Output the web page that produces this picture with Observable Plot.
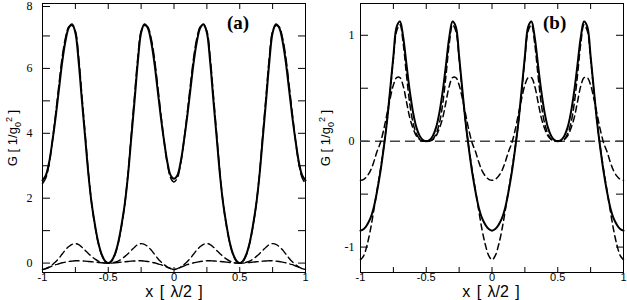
<!DOCTYPE html>
<html><head><meta charset="utf-8">
<script src="https://cdn.jsdelivr.net/npm/d3@7"></script>
<script src="https://cdn.jsdelivr.net/npm/@observablehq/plot@0.6"></script>
<style>
body{margin:0;background:#fff;}
#wrap{position:relative;width:627px;height:300px;overflow:hidden;background:#fff;}
.panel{position:absolute;top:0;overflow:visible;}
.ylab{position:absolute;font-family:"Liberation Sans",Arial,sans-serif;font-size:13px;white-space:nowrap;transform:translate(-50%,-50%) rotate(-90deg);line-height:1;}
.ylab sub,.ylab sup{font-size:9px;}
.xlab{position:absolute;font-family:"Liberation Sans",Arial,sans-serif;font-size:16px;white-space:pre;word-spacing:2px;transform:translate(-50%,-50%);line-height:1;}
.tag{position:absolute;font-family:"Liberation Serif","Times New Roman",serif;font-weight:bold;font-size:19px;line-height:1;}
</style></head><body><div id="wrap"></div>
<script>
// ---- shared x grid (x in units of lambda/2) ----
const xs = [-1, -0.975, -0.95, -0.925, -0.9, -0.875, -0.85, -0.825, -0.8, -0.775,
  -0.75, -0.725, -0.7, -0.675, -0.65, -0.625, -0.6, -0.575, -0.55, -0.525,
  -0.5, -0.475, -0.45, -0.425, -0.4, -0.375, -0.35, -0.325, -0.3, -0.275,
  -0.25, -0.225, -0.2, -0.175, -0.15, -0.125, -0.1, -0.075, -0.05, -0.025,
  0, 0.025, 0.05, 0.075, 0.1, 0.125, 0.15, 0.175, 0.2, 0.225,
  0.25, 0.275, 0.3, 0.325, 0.35, 0.375, 0.4, 0.425, 0.45, 0.475,
  0.5, 0.525, 0.55, 0.575, 0.6, 0.625, 0.65, 0.675, 0.7, 0.725,
  0.75, 0.775, 0.8, 0.825, 0.85, 0.875, 0.9, 0.925, 0.95, 0.975, 1];

// ---- panel (a) series ----
const aSolid = [
  2.55, 2.7, 3.1, 3.75, 4.5, 5.35, 6.2, 6.85, 7.25, 7.36, 7.1, 6.2, 5.0, 3.85, 2.7, 1.8, 1.15, 0.62, 0.27, 0.07, 0,
  0.07, 0.27, 0.62, 1.15, 1.8, 2.7, 3.85, 5.0, 6.2, 7.1, 7.36, 7.25, 6.85, 6.2, 5.35, 4.5, 3.75, 3.1, 2.7, 2.6,
  2.7, 3.1, 3.75, 4.5, 5.35, 6.2, 6.85, 7.25, 7.36, 7.1, 6.2, 5.0, 3.85, 2.7, 1.8, 1.15, 0.62, 0.27, 0.07, 0,
  0.07, 0.27, 0.62, 1.15, 1.8, 2.7, 3.85, 5.0, 6.2, 7.1, 7.36, 7.25, 6.85, 6.2, 5.35, 4.5, 3.75, 3.1, 2.7, 2.55];
const aDashBig = [
  2.45, 2.62, 3.05, 3.75, 4.6, 5.5, 6.35, 6.95, 7.28, 7.32, 7.15, 6.35, 5.15, 3.95, 2.75, 1.8, 1.12, 0.6, 0.25, 0.06, 0,
  0.06, 0.25, 0.6, 1.12, 1.8, 2.75, 3.95, 5.15, 6.35, 7.15, 7.32, 7.28, 6.95, 6.35, 5.5, 4.6, 3.75, 3.05, 2.62, 2.5,
  2.62, 3.05, 3.75, 4.6, 5.5, 6.35, 6.95, 7.28, 7.32, 7.15, 6.35, 5.15, 3.95, 2.75, 1.8, 1.12, 0.6, 0.25, 0.06, 0,
  0.06, 0.25, 0.6, 1.12, 1.8, 2.75, 3.95, 5.15, 6.35, 7.15, 7.32, 7.28, 6.95, 6.35, 5.5, 4.6, 3.75, 3.05, 2.62, 2.45];
const aDashPeak = [
  -0.2, -0.17, -0.12, -0.05, 0.04, 0.15, 0.28, 0.41, 0.51, 0.58, 0.6, 0.57, 0.49, 0.39, 0.29, 0.2, 0.12, 0.06, 0.025, 0.005, 0,
  0.005, 0.025, 0.06, 0.12, 0.2, 0.29, 0.39, 0.49, 0.57, 0.6, 0.58, 0.51, 0.41, 0.28, 0.15, 0.04, -0.05, -0.12, -0.17, -0.2,
  -0.17, -0.12, -0.05, 0.04, 0.15, 0.28, 0.41, 0.51, 0.58, 0.6, 0.57, 0.49, 0.39, 0.29, 0.2, 0.12, 0.06, 0.025, 0.005, 0,
  0.005, 0.025, 0.06, 0.12, 0.2, 0.29, 0.39, 0.49, 0.57, 0.6, 0.58, 0.51, 0.41, 0.28, 0.15, 0.04, -0.05, -0.12, -0.17, -0.2];
const aDashFlat = [
  -0.2, -0.17, -0.13, -0.09, -0.05, -0.02, 0.01, 0.03, 0.05, 0.06, 0.07, 0.07, 0.065, 0.06, 0.05, 0.04, 0.03, 0.02, 0.01, 0.0, 0,
  0.0, 0.01, 0.02, 0.03, 0.04, 0.05, 0.06, 0.065, 0.07, 0.07, 0.06, 0.05, 0.03, 0.01, -0.02, -0.05, -0.09, -0.13, -0.17, -0.2,
  -0.17, -0.13, -0.09, -0.05, -0.02, 0.01, 0.03, 0.05, 0.06, 0.07, 0.07, 0.065, 0.06, 0.05, 0.04, 0.03, 0.02, 0.01, 0.0, 0,
  0.0, 0.01, 0.02, 0.03, 0.04, 0.05, 0.06, 0.065, 0.07, 0.07, 0.06, 0.05, 0.03, 0.01, -0.02, -0.05, -0.09, -0.13, -0.17, -0.2];

// ---- panel (b) series ----
const bSolid = [
  -0.845, -0.83, -0.79, -0.73, -0.63, -0.48, -0.3, -0.08, 0.17, 0.48, 0.8, 1.08, 1.13, 0.98, 0.72, 0.47, 0.27, 0.13, 0.05, 0.01, 0,
  0.01, 0.05, 0.13, 0.27, 0.47, 0.72, 0.98, 1.13, 1.08, 0.8, 0.48, 0.17, -0.08, -0.3, -0.48, -0.63, -0.73, -0.79, -0.83, -0.845,
  -0.83, -0.79, -0.73, -0.63, -0.48, -0.3, -0.08, 0.17, 0.48, 0.8, 1.08, 1.13, 0.98, 0.72, 0.47, 0.27, 0.13, 0.05, 0.01, 0,
  0.01, 0.05, 0.13, 0.27, 0.47, 0.72, 0.98, 1.13, 1.08, 0.8, 0.48, 0.17, -0.08, -0.3, -0.48, -0.63, -0.73, -0.79, -0.83, -0.845];
const bDashBig = [
  -1.12, -1.08, -0.98, -0.84, -0.66, -0.47, -0.28, -0.07, 0.17, 0.46, 0.78, 1.04, 1.1, 0.92, 0.62, 0.35, 0.17, 0.07, 0.02, 0.0, 0,
  0.0, 0.02, 0.07, 0.17, 0.35, 0.62, 0.92, 1.1, 1.04, 0.78, 0.46, 0.17, -0.07, -0.28, -0.47, -0.66, -0.84, -0.98, -1.08, -1.12,
  -1.08, -0.98, -0.84, -0.66, -0.47, -0.28, -0.07, 0.17, 0.46, 0.78, 1.04, 1.1, 0.92, 0.62, 0.35, 0.17, 0.07, 0.02, 0.0, 0,
  0.0, 0.02, 0.07, 0.17, 0.35, 0.62, 0.92, 1.1, 1.04, 0.78, 0.46, 0.17, -0.07, -0.28, -0.47, -0.66, -0.84, -0.98, -1.08, -1.12];
const bDashSmall = [
  -0.37, -0.36, -0.33, -0.28, -0.2, -0.1, -0.02, 0.1, 0.25, 0.4, 0.53, 0.6, 0.6, 0.52, 0.37, 0.22, 0.12, 0.05, 0.015, 0.0, 0,
  0.0, 0.015, 0.05, 0.12, 0.22, 0.37, 0.52, 0.6, 0.6, 0.53, 0.4, 0.25, 0.1, -0.02, -0.1, -0.2, -0.28, -0.33, -0.36, -0.37,
  -0.36, -0.33, -0.28, -0.2, -0.1, -0.02, 0.1, 0.25, 0.4, 0.53, 0.6, 0.6, 0.52, 0.37, 0.22, 0.12, 0.05, 0.015, 0.0, 0,
  0.0, 0.015, 0.05, 0.12, 0.22, 0.37, 0.52, 0.6, 0.6, 0.53, 0.4, 0.25, 0.1, -0.02, -0.1, -0.2, -0.28, -0.33, -0.36, -0.37];
const bZero = [0];

// ---- ticks ----
const xMajor = [-1, -0.5, 0, 0.5, 1];
const xMajorLabels = ["-1", "-0.5", "0", "0.5", "1"];
const xMinor = [-0.75, -0.25, 0.25, 0.75];
const aYMajor = [0, 2, 4, 6, 8];
const aYMajorLabels = ["0", "2", "4", "6", "8"];
const aYMinor = [1, 3, 5, 7];
const bYMajor = [-1, 0, 1];
const bYMajorLabels = ["-1", "0", "1"];
const bYMinor = [-0.5, 0.5];

const rows = ys => xs.map((x, i) => ({x, y: ys[i]}));
const blank = () => "";
const yFont = {fontSize: 12, fontFamily: "Liberation Serif, Times New Roman, serif", fill: "#000", label: null};

function axes(yMajor, yLabels, yMinor, yPad, yTop) {
  const xAll = xMajor.concat(xMinor), yAll = yMajor.concat(yMinor);
  const lab = new Map(yMajor.map((v, i) => [v, yLabels[i]]));
  const inner = yMajor.filter(v => v !== yTop), top = yMajor.filter(v => v === yTop);
  return [
    Plot.frame({stroke: "#000", strokeWidth: 1}),
    Plot.axisX(xMajor, {anchor: "bottom", tickSize: -5, tickPadding: 6, tickFormat: (d, i) => xMajorLabels[i],
      fontSize: 11, fontFamily: "Liberation Sans, Arial, sans-serif", fill: "#000", label: null}),
    Plot.axisX(xMinor, {anchor: "bottom", tickSize: -5, tickFormat: blank, label: null}),
    Plot.axisX(xAll, {anchor: "top", tickSize: -5, tickFormat: blank, label: null}),
    Plot.axisY(inner, {anchor: "left", tickSize: -8, tickPadding: yPad, tickFormat: d => lab.get(d), ...yFont}),
    Plot.axisY(top, {anchor: "left", tickSize: -8, tickPadding: yPad, tickFormat: d => lab.get(d), dy: 3, ...yFont}),
    Plot.axisY(yMinor, {anchor: "left", tickSize: -8, tickFormat: blank, label: null}),
    Plot.axisY(yAll, {anchor: "right", tickSize: -8, tickFormat: blank, label: null})
  ];
}

const common = {height: 300, marginTop: 3, marginBottom: 28,
  style: {background: "transparent", color: "#000", overflow: "visible"}};

const plotA = Plot.plot({
  ...common, width: 313, marginLeft: 42, marginRight: 8,
  x: {domain: [-1, 1]}, y: {domain: [-0.29, 8]},
  marks: [
    ...axes(aYMajor, aYMajorLabels, aYMinor, 18, 8),
    Plot.line(rows(aDashFlat), {x: "x", y: "y", stroke: "#000", strokeWidth: 1.4, strokeDasharray: "10,4", curve: "catmull-rom"}),
    Plot.line(rows(aDashPeak), {x: "x", y: "y", stroke: "#000", strokeWidth: 1.4, strokeDasharray: "7,4", curve: "catmull-rom"}),
    Plot.line(rows(aDashBig), {x: "x", y: "y", stroke: "#000", strokeWidth: 1.5, strokeDasharray: "9,4", curve: "catmull-rom"}),
    Plot.line(rows(aSolid), {x: "x", y: "y", stroke: "#000", strokeWidth: 2, curve: "catmull-rom"})
  ]
});

const plotB = Plot.plot({
  ...common, width: 314, marginLeft: 47, marginRight: 4,
  x: {domain: [-1, 1]}, y: {domain: [-1.24, 1.3]},
  marks: [
    ...axes(bYMajor, bYMajorLabels, bYMinor, 14, null),
    Plot.ruleY(bZero, {stroke: "#444", strokeWidth: 1.5, strokeDasharray: "10,5"}),
    Plot.line(rows(bDashSmall), {x: "x", y: "y", stroke: "#000", strokeWidth: 1.5, strokeDasharray: "6,4", curve: "catmull-rom"}),
    Plot.line(rows(bDashBig), {x: "x", y: "y", stroke: "#000", strokeWidth: 1.5, strokeDasharray: "6,4", curve: "catmull-rom"}),
    Plot.line(rows(bSolid), {x: "x", y: "y", stroke: "#000", strokeWidth: 2, curve: "catmull-rom"})
  ]
});

const wrap = document.getElementById("wrap");
plotA.classList.add("panel"); plotA.style.left = "0px";
plotB.classList.add("panel"); plotB.style.left = "313px";
wrap.appendChild(plotA);
wrap.appendChild(plotB);

function addHTML(cls, html, left, top) {
  const d = document.createElement("div");
  d.className = cls; d.innerHTML = html;
  d.style.left = left + "px"; d.style.top = top + "px";
  wrap.appendChild(d);
}
const yTitle = "G [ 1/g<sub>0</sub><sup>2</sup> ]";
const xTitle = "x [ λ/2 ]";
addHTML("ylab", yTitle, 14, 138);
addHTML("ylab", yTitle, 327, 138);
addHTML("xlab", xTitle, 174, 292);
addHTML("xlab", xTitle, 491, 292);
addHTML("tag", "(a)", 227, 13);
addHTML("tag", "(b)", 543, 13);
</script>
</body></html>
